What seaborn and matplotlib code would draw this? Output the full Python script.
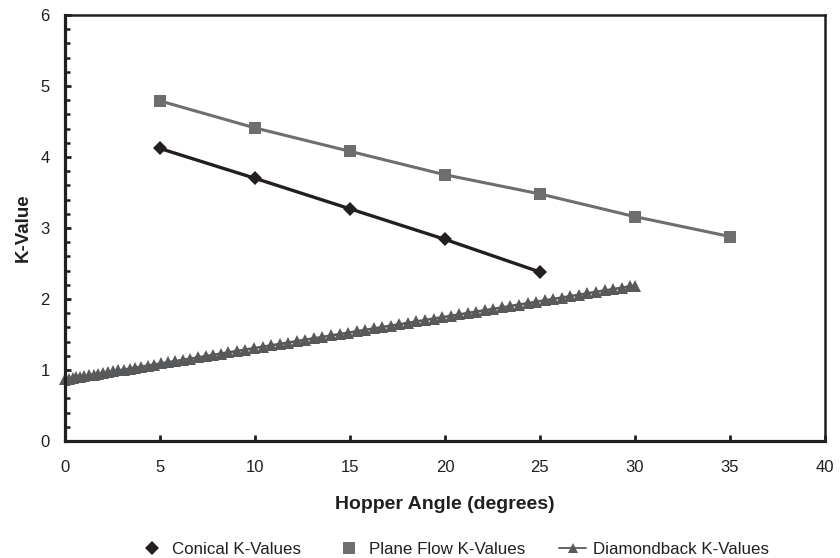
import matplotlib
matplotlib.use("Agg")
import matplotlib.pyplot as plt
import seaborn as sns
from matplotlib.lines import Line2D
from matplotlib.ticker import MultipleLocator

sns.set_theme(style="white")
plt.rcParams['font.family'] = ['Liberation Sans', 'DejaVu Sans']

conical_x = [5, 10, 15, 20, 25]
conical_y = [4.12, 3.70, 3.27, 2.84, 2.38]

plane_x = [5, 10, 15, 20, 25, 30, 35]
plane_y = [4.79, 4.41, 4.08, 3.75, 3.48, 3.16, 2.88]

diamond_x = [0, 0.2, 0.4, 0.6, 0.8, 1.0, 1.25, 1.5, 1.75, 2.0, 2.25, 2.5, 2.8, 3.1,
             3.4, 3.7, 4.0, 4.35, 4.7, 5.05, 5.4, 5.8, 6.2, 6.6, 7.0, 7.4, 7.8, 8.2,
             8.6, 9.05, 9.5, 9.95, 10.4, 10.85, 11.3, 11.75, 12.2, 12.65, 13.1, 13.55,
             14.0, 14.45, 14.9, 15.35, 15.8, 16.25, 16.7, 17.15, 17.6, 18.05, 18.5,
             18.95, 19.4, 19.85, 20.3, 20.75, 21.2, 21.65, 22.1, 22.55, 23.0, 23.45,
             23.9, 24.35, 24.8, 25.25, 25.7, 26.15, 26.6, 27.05, 27.5, 27.95, 28.4,
             28.85, 29.3, 29.75, 30.0]
diamond_y = [0.870, 0.879, 0.888, 0.896, 0.905, 0.914, 0.925, 0.936, 0.947, 0.958,
             0.969, 0.980, 0.993, 1.006, 1.020, 1.033, 1.046, 1.061, 1.077, 1.092,
             1.108, 1.125, 1.143, 1.160, 1.178, 1.196, 1.213, 1.231, 1.248, 1.268,
             1.288, 1.308, 1.328, 1.347, 1.367, 1.387, 1.407, 1.427, 1.446, 1.466,
             1.486, 1.506, 1.526, 1.545, 1.565, 1.585, 1.605, 1.625, 1.644, 1.664,
             1.684, 1.704, 1.724, 1.743, 1.763, 1.783, 1.803, 1.823, 1.842, 1.862,
             1.882, 1.902, 1.922, 1.941, 1.961, 1.981, 2.001, 2.021, 2.040, 2.060,
             2.080, 2.100, 2.120, 2.139, 2.159, 2.179, 2.190]

labels = ["Conical K-Values", "Plane Flow K-Values", "Diamondback K-Values"]
c_con = "#231f20"
c_pla = "#6d6e70"
c_dia = "#58595b"
c_ax = "#231f20"

fig = plt.figure(figsize=(8.4, 5.58), dpi=100)
ax = fig.add_axes([0.0774, 0.2097, 0.9046, 0.7634])

sns.lineplot(x=diamond_x, y=diamond_y, ax=ax, color=c_dia, lw=1.8, marker='^',
             markersize=8, markeredgewidth=0, sort=False, clip_on=False)
sns.lineplot(x=plane_x, y=plane_y, ax=ax, color=c_pla, lw=2.2, marker='s',
             markersize=8.5, markeredgewidth=0, sort=False)
sns.lineplot(x=conical_x, y=conical_y, ax=ax, color=c_con, lw=2.4, marker='D',
             markersize=7.5, markeredgewidth=0, sort=False)

ax.set_xlim(0, 40)
ax.set_ylim(0, 6)
ax.xaxis.set_major_locator(MultipleLocator(5))
ax.yaxis.set_major_locator(MultipleLocator(1))
ax.yaxis.set_minor_locator(MultipleLocator(0.2))

for s in ax.spines.values():
    s.set_color(c_ax)
    s.set_linewidth(1.8)
ax.spines['left'].set_linewidth(2.3)
ax.spines['bottom'].set_linewidth(2.3)

ax.tick_params(axis='both', which='major', direction='in', length=4.5, width=2,
               color=c_ax, labelsize=12, labelcolor=c_ax)
ax.tick_params(axis='y', which='minor', direction='in', length=3.5, width=1.8,
               color=c_ax, left=True)
ax.tick_params(axis='x', which='major', pad=14, bottom=True)
ax.tick_params(axis='y', which='major', pad=11, left=True)

ax.set_xlabel("Hopper Angle (degrees)", fontsize=14, fontweight='bold',
              color=c_ax, labelpad=15)
ax.set_ylabel("K-Value", fontsize=13.5, fontweight='bold', color=c_ax,
              labelpad=6)

handles = [
    Line2D([], [], color=c_con, marker='D', markersize=7, lw=0, markeredgewidth=0),
    Line2D([], [], color=c_pla, marker='s', markersize=8.5, lw=0, markeredgewidth=0),
    Line2D([], [], color=c_dia, marker='^', markersize=7, lw=1.3, markeredgewidth=0),
]
fig.legend(handles, labels, loc='lower center', ncol=3, frameon=False,
           bbox_to_anchor=(0.54, -0.026), fontsize=12.2, handlelength=1.6,
           columnspacing=2.0, handletextpad=0.4, labelcolor=c_ax)

fig.savefig("out.png", dpi=100)
